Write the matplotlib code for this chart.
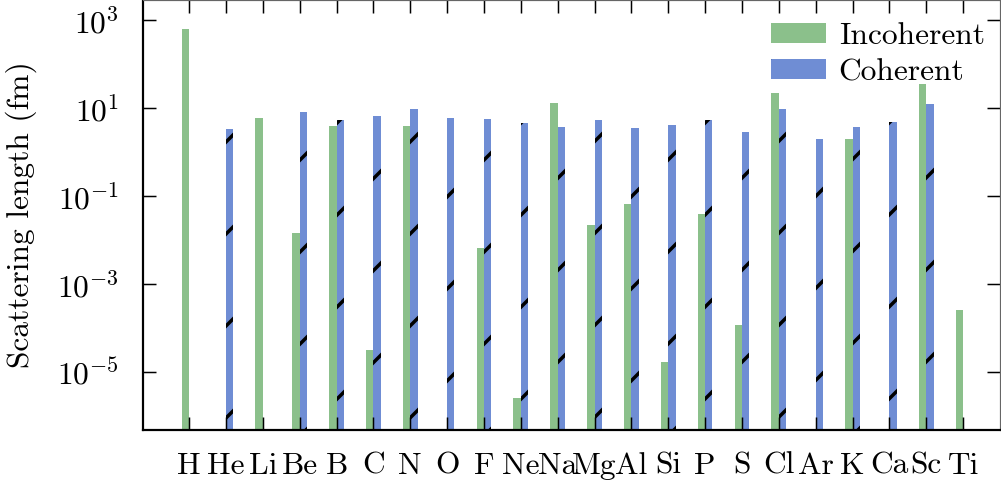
import numpy as np
import matplotlib
matplotlib.use('Agg')
import matplotlib.pyplot as plt
from matplotlib.patches import Patch
from matplotlib.ticker import FixedLocator, NullLocator

elements = ['H', 'He', 'Li', 'Be', 'B', 'C', 'N', 'O', 'F', 'Ne', 'Na', 'Mg', 'Al',
            'Si', 'P', 'S', 'Cl', 'Ar', 'K', 'Ca', 'Sc', 'Ti']
nan = np.nan
incoherent = [620, nan, 5.9, 0.0148, 3.9, 3.2e-5, 3.9, nan, 0.0066, 2.6e-6, 12.8,
              0.022, 0.066, 1.7e-5, 0.039, 1.2e-4, 21.6, nan, 1.97, nan, 34.7, 2.6e-4]
coherent = [nan, 3.3, nan, 8.1, 5.3, 6.6, 9.5, 5.9, 5.6, 4.6, 3.7,
            5.3, 3.5, 4.1, 5.3, 2.85, 9.5, 1.97, 3.7, 4.8, 12.3, nan]

DPI = 276
px = 72.0 / DPI  # one pixel in points

plt.rcParams['font.family'] = 'cmr10'
plt.rcParams['mathtext.fontset'] = 'cm'
plt.rcParams['axes.formatter.use_mathtext'] = True
plt.rcParams['axes.unicode_minus'] = False
plt.rcParams['hatch.color'] = 'black'
plt.rcParams['hatch.linewidth'] = 3.5 * px

green = '#8bc08b'
blue = '#6f8dd4'
fs = 31.5 * px

fig = plt.figure(figsize=(1001 / DPI, 484 / DPI), dpi=DPI)
ax = fig.add_axes([143 / 1001, 54 / 484, 857 / 1001, 430 / 484])

x = np.arange(len(elements))
ax.bar(x, incoherent, width=-0.2, align='edge', color=green, linewidth=0, log=True)
ax.bar(x, coherent, width=0.2, align='edge', color=blue, linewidth=0, hatch='/', log=True)

ax.set_yscale('log')
ax.set_xlim(-1.25, 22.0)
ax.set_ylim(10 ** -6.318, 10 ** 3.4545)
ax.yaxis.set_major_locator(FixedLocator([1e-5, 1e-3, 1e-1, 1e1, 1e3]))
ax.yaxis.set_minor_locator(NullLocator())
ax.set_xticks(x)
ax.set_xticklabels(elements)

ax.tick_params(which='both', direction='in', top=True, right=True,
               length=13 * px, width=1.5 * px, labelsize=fs)
ax.tick_params(axis='x', pad=22 * px)
ax.tick_params(axis='y', pad=24 * px)
for side in ['left', 'bottom']:
    ax.spines[side].set_linewidth(2.2 * px)
for side in ['top', 'right']:
    ax.spines[side].set_linewidth(1.2 * px)
    ax.spines[side].set_color('0.4')

ax.set_ylabel('Scattering length (fm)', fontsize=fs, labelpad=20 * px)

handles = [Patch(facecolor=green, linewidth=0, label='Incoherent'),
           Patch(facecolor=blue, linewidth=0, hatch='/', label='Coherent')]
ax.legend(handles=handles, loc='upper right', frameon=False, fontsize=fs,
          bbox_to_anchor=(1 + 2 / 857, 1 - 5 / 430),
          handlelength=1.75, handleheight=0.63, handletextpad=0.41,
          labelspacing=0.25, borderaxespad=0.15)

fig.savefig('out.png', dpi=DPI)
